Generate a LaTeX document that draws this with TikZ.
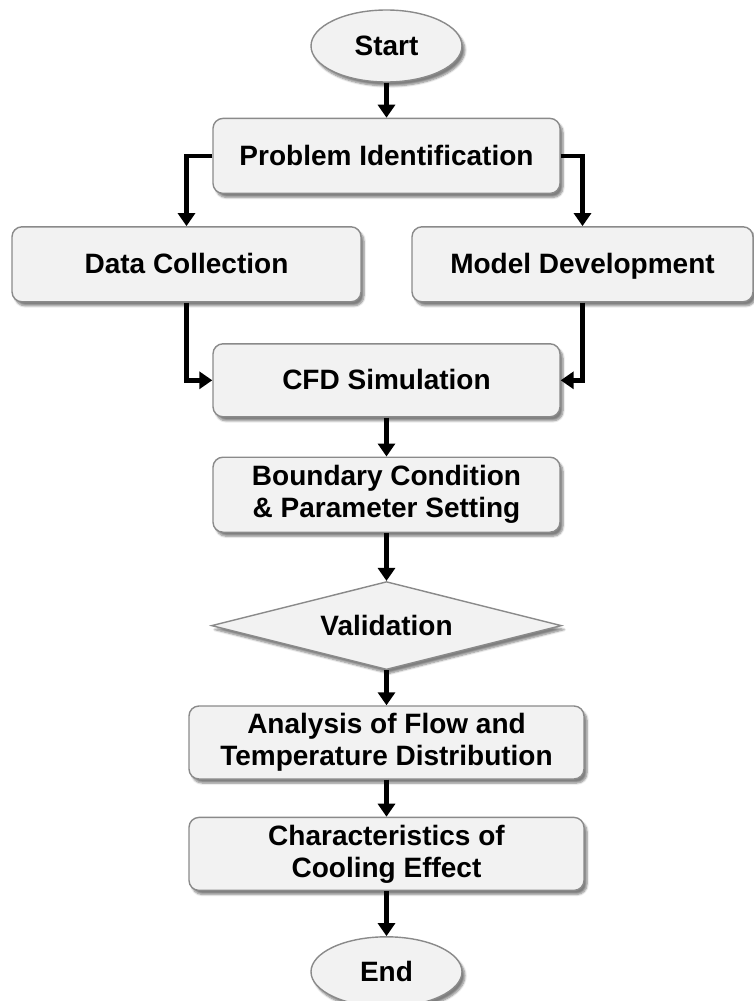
\documentclass[tikz,border=0pt]{standalone}
\usepackage{fontspec}
\setmainfont{Liberation Sans}
\usepackage{tikz}
\usetikzlibrary{
	positioning,
	arrows.meta,
	shapes.geometric,
	shadows.blur
}

\definecolor{boxfill}{HTML}{F2F2F2}
\definecolor{boxline}{HTML}{8A8A8A}

\tikzset{
	base/.style={draw=boxline, line width=1.4pt, fill=boxfill, text=black,
		font=\fontsize{28}{32}\selectfont\bfseries, align=center, inner sep=0pt,
		blur shadow={shadow xshift=3pt, shadow yshift=-4pt,
			shadow blur steps=6, shadow opacity=50}},
	oneline/.style={text height=25pt, text depth=6pt},
	block/.style={base, rounded corners=10pt, minimum width=347pt, minimum height=75pt},
	wideblock/.style={block, minimum width=395pt, minimum height=73pt},
	terminal/.style={base, oneline, ellipse, minimum width=151pt, minimum height=72pt},
	decision/.style={base, oneline, diamond, aspect=3.98, minimum width=350pt, minimum height=88pt},
	flow/.style={draw=black, line width=4.5pt, -{Triangle[width=17pt,length=13pt]}},
	hvflow/.style={flow, to path={-| (\tikztotarget)}},
	vhflow/.style={flow, to path={|- (\tikztotarget)}}
}

\begin{document}
\begin{tikzpicture}[x=1pt,y=-1pt]
		\useasboundingbox (0,0) rectangle (754,1001);

		\draw
			node[terminal] at (386.5,46)                  (start)  {Start}
			node[block,oneline,below=35pt of start]       (pi)     {Problem Identification}
			node[block,oneline,minimum width=349pt,below=32pt of pi,xshift=-200pt] (dc) {Data Collection}
			node[block,oneline,minimum width=341pt,below=32pt of pi,xshift=196pt]  (md) {Model Development}
			node[block,oneline,minimum height=73pt,below=149pt of pi] (cfd) {CFD Simulation}
			node[block,below=39pt of cfd]                 (bc)     {Boundary Condition\\\& Parameter Setting}
			node[decision,below=48pt of bc]               (val)    {Validation}
			node[wideblock,below=35pt of val]             (an)     {Analysis of Flow and\\Temperature Distribution}
			node[wideblock,below=37pt of an]              (ch)     {Characteristics of\\Cooling Effect}
			node[terminal,minimum height=70pt,below=45pt of ch] (finish) {End}

			(start) edge[flow]   (pi)
			(pi)    edge[hvflow] (dc)
			(pi)    edge[hvflow] (md)
			(dc)    edge[vhflow] (cfd)
			(md)    edge[vhflow] (cfd)
			(cfd)   edge[flow]   (bc)
			(bc)    edge[flow]   (val)
			(val)   edge[flow]   (an)
			(an)    edge[flow]   (ch)
			(ch)    edge[flow]   (finish)
		;
	\end{tikzpicture}
\end{document}
